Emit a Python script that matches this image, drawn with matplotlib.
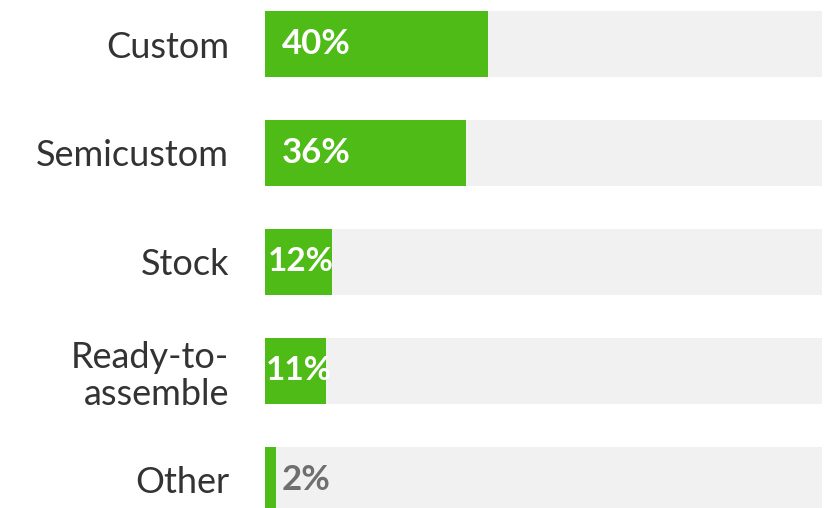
import matplotlib
matplotlib.use('Agg')
import matplotlib.pyplot as plt

# ------------------- Data ------------------- #
categories = ['Custom', 'Semicustom', 'Stock', 'Ready-to-\nassemble', 'Other']
shares = [40, 36, 12, 11, 2]
value_labels = ['40%', '36%', '12%', '11%', '2%']

green = '#4fbb16'
track = '#f1f1f1'

plt.rcParams['font.family'] = ['Lato', 'DejaVu Sans']

fig = plt.figure(figsize=(8.37, 5.08), dpi=100)
ax = fig.add_axes([265 / 837, 0, (822 - 265) / 837, 1])

ypos = list(range(len(categories)))
bar_h = 0.605

# background tracks + values
ax.barh(ypos, [100] * len(ypos), height=bar_h, color=track, zorder=1)
ax.barh(ypos, shares, height=bar_h, color=green, zorder=2)

for y, v, lab in zip(ypos, shares, value_labels):
    if v >= 15:
        ax.text(3, y, lab, ha='left', va='center', color='white',
                fontsize=25, fontweight='bold', zorder=3)
    elif v >= 5:
        ax.text(v / 2 + 0.5, y, lab, ha='center', va='center', color='white',
                fontsize=24, fontweight='bold', zorder=3)
    else:
        ax.text(3, y, lab, ha='left', va='center', color='#6f6f6f',
                fontsize=25, fontweight='bold', zorder=3)

ax.set_xlim(0, 100)
ax.set_ylim(4.257, -0.4037)
ax.set_yticks(ypos)
ax.set_yticklabels(categories, fontsize=26, color='#333333',
                   linespacing=1.15)
ax.tick_params(axis='y', length=0, pad=26)
ax.set_xticks([])
for s in ax.spines.values():
    s.set_visible(False)

fig.savefig('out.png', dpi=100)
